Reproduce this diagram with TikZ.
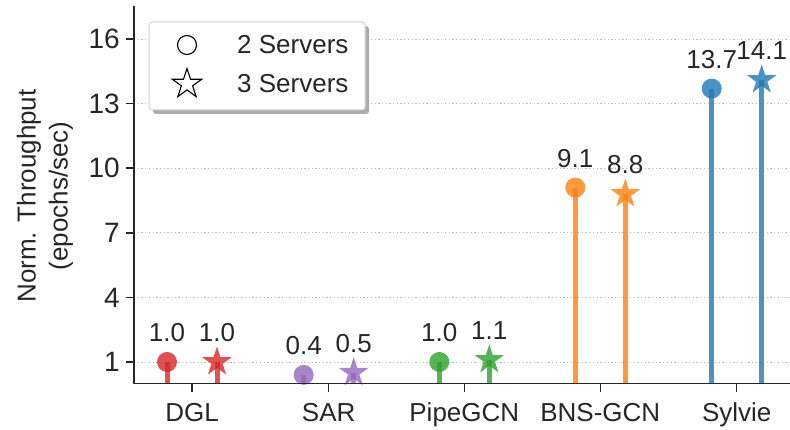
\documentclass[tikz,border=0pt]{standalone}
\usepackage{fontspec}
\setmainfont{Liberation Sans}
\usetikzlibrary{shapes.geometric}
\definecolor{ink}{HTML}{262626}
\definecolor{cRed}{HTML}{D62728}
\definecolor{cPurple}{HTML}{9467BD}
\definecolor{cGreen}{HTML}{2CA02C}
\definecolor{cOrange}{HTML}{FF7F0E}
\definecolor{cBlue}{HTML}{1F77B4}
\begin{document}
\begin{tikzpicture}[x=1pt,y=-1pt,
  spine/.style={draw=ink,line width=1.5pt},
  gridline/.style={draw=gray!55,line width=0.9pt,dash pattern=on 1.3pt off 2.4pt},
  stem/.style={line width=5pt,opacity=0.8},
  dot/.style={circle,inner sep=0pt,minimum size=20pt,opacity=0.8},
  starmark/.style={star,star points=5,star point ratio=2.618,inner sep=0pt,minimum size=31pt,opacity=0.8},
  ticklab/.style={text=ink,inner sep=0pt,font=\fontsize{28}{32}\selectfont},
  catlab/.style={text=ink,inner sep=0pt,anchor=base,font=\fontsize{26}{30}\selectfont},
  vallab/.style={text=ink,inner sep=0pt,font=\fontsize{26}{30}\selectfont},
  leglab/.style={text=ink,inner sep=0pt,anchor=west,font=\fontsize{26}{30}\selectfont},
  legmark/.style={draw=black,fill=white,line width=1.1pt,inner sep=0pt}]
\useasboundingbox (0,0) rectangle (790,430);

% horizontal grid, y ticks and their labels
\foreach \v in {1,4,7,10,13,16}{
  \coordinate (gl\v) at (134,{383.5-21.53*\v});
  \coordinate (gr\v) at (790,{383.5-21.53*\v});
  \coordinate (tk\v) at (126,{383.5-21.53*\v});
  \draw[gridline] (gl\v) -- (gr\v);
  \draw[spine] (tk\v) -- (gl\v);
  \node[ticklab,anchor=east] (yl\v) at (120,{383.5-21.53*\v}) {\v};
}

% lollipops: two servers (circle) and three servers (star) per system
\foreach \nm/\cx/\a/\b/\col/\cat in {dgl/192/1.0/1.0/cRed/DGL,
    sar/328.7/0.4/0.5/cPurple/SAR,
    pipe/464.3/1.0/1.1/cGreen/PipeGCN,
    bns/600.3/9.1/8.8/cOrange/BNS-GCN,
    syl/736.7/13.7/14.1/cBlue/Sylvie}{
  \coordinate (\nm-b2) at (\cx-25,383.5);
  \coordinate (\nm-v2) at (\cx-25,{383.5-21.53*\a});
  \coordinate (\nm-b3) at (\cx+25,383.5);
  \coordinate (\nm-v3) at (\cx+25,{383.5-21.53*\b});
  \node[dot,fill=\col] (\nm-m2) at (\nm-v2) {};
  \node[starmark,fill=\col] (\nm-m3) at (\nm-v3) {};
  \draw[stem,draw=\col] (\nm-b2) -- (\nm-v2);
  \draw[stem,draw=\col] (\nm-b3) -- (\nm-v3);
  \node[vallab] (\nm-l2) at ([yshift=29pt]\nm-v2) {\a};
  \node[vallab] (\nm-l3) at ([yshift=29pt]\nm-v3) {\b};
  \coordinate (\nm-t0) at (\cx,383.5);
  \coordinate (\nm-t1) at (\cx,391.5);
  \draw[spine] (\nm-t0) -- (\nm-t1);
  \node[catlab] (\nm-cat) at (\cx,421.5) {\cat};
}

% axes
\coordinate (ax-top) at (134,7);
\coordinate (ax-o) at (134,383.5);
\coordinate (ax-r) at (790,383.5);
\draw[spine,line cap=rect] (ax-top) -- (ax-o) -- (ax-r);

% axis title
\node[text=ink,rotate=90,align=center,inner sep=0pt,
      font=\fontsize{26}{32}\selectfont] (ytitle) at (45,196)
  {Norm. Throughput\\(epochs/sec)};

% legend with drop shadow
\coordinate (lg-sa) at (153,26);
\coordinate (lg-sb) at (369,114);
\coordinate (lg-a) at (149,22);
\coordinate (lg-b) at (365,110);
\fill[gray!65,rounded corners=3pt] (lg-sa) rectangle (lg-sb);
\draw[fill=white,draw=gray!35,line width=1pt,rounded corners=3pt] (lg-a) rectangle (lg-b);
\node[legmark,circle,minimum size=19pt] (lg-circ) at (187,45) {};
\node[legmark,star,star points=5,star point ratio=2.618,minimum size=31pt] (lg-star) at (187,84) {};
\node[leglab] (lg-t2) at (237,45) {2 Servers};
\node[leglab] (lg-t3) at (237,84) {3 Servers};
\end{tikzpicture}
\end{document}
